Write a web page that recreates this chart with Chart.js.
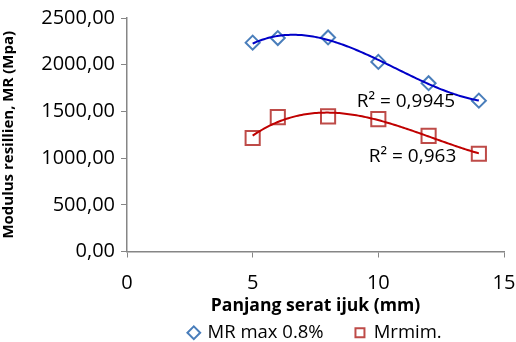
<!DOCTYPE html>
<html>
<head>
<meta charset="utf-8">
<script src="https://cdn.jsdelivr.net/npm/chart.js@4"></script>
<style>
  html, body { margin: 0; padding: 0; background: #fff; }
  #wrap { width: 516px; height: 342px; }
</style>
</head>
<body>
<div id="wrap"><canvas id="chart" width="516" height="342"></canvas></div>
<script>
'use strict';

// fibre length (mm)
const fibreLength = [5, 6, 8, 10, 12, 14];
const mrMax = [2236, 2285, 2292, 2030, 1802, 1615];
const mrMin = [1215, 1438, 1446, 1418, 1238, 1047];
const seriesNames = ['MR max 0.8%', 'Mrmim.'];
const r2Labels = ['R\u00b2 = 0,9945', 'R\u00b2 = 0,963'];
// where the R² text sits, in data units (right edge x, centre y)
const r2AnchorX = [13.05, 13.1];
const r2AnchorY = [1600, 1015];
const yTicks = [0, 500, 1000, 1500, 2000, 2500];
const xTicks = [0, 5, 10, 15];

const FONT = '"Open Sans", "Liberation Sans", sans-serif';
const AXIS_GREY = '#868686';

// least squares polynomial fit, returns coefficients c0..cn
function polyFit(xs, ys, order) {
  const n = order + 1;
  const A = [];
  for (let i = 0; i < n; i++) {
    A.push(new Array(n + 1).fill(0));
  }
  for (let k = 0; k < xs.length; k++) {
    for (let i = 0; i < n; i++) {
      for (let j = 0; j < n; j++) A[i][j] += Math.pow(xs[k], i + j);
      A[i][n] += ys[k] * Math.pow(xs[k], i);
    }
  }
  // gaussian elimination
  for (let i = 0; i < n; i++) {
    let max = i;
    for (let r = i + 1; r < n; r++) if (Math.abs(A[r][i]) > Math.abs(A[max][i])) max = r;
    [A[i], A[max]] = [A[max], A[i]];
    for (let r = i + 1; r < n; r++) {
      const f = A[r][i] / A[i][i];
      for (let c = i; c <= n; c++) A[r][c] -= f * A[i][c];
    }
  }
  const coef = new Array(n).fill(0);
  for (let i = n - 1; i >= 0; i--) {
    let s = A[i][n];
    for (let j = i + 1; j < n; j++) s -= A[i][j] * coef[j];
    coef[i] = s / A[i][i];
  }
  return coef;
}

const trendlinePlugin = {
  id: 'trendlines',
  afterDatasetsDraw(chart) {
    const { ctx, scales: { x, y } } = chart;
    ctx.save();
    chart.data.datasets.forEach((ds, idx) => {
      const xs = ds.data.map(p => p.x);
      const ys = ds.data.map(p => p.y);
      const coef = polyFit(xs, ys, 3);
      const x0 = Math.min(...xs);
      const x1 = Math.max(...xs);
      ctx.beginPath();
      const steps = 120;
      for (let s = 0; s <= steps; s++) {
        const xv = x0 + (x1 - x0) * s / steps;
        const yv = coef.reduce((acc, c, i) => acc + c * Math.pow(xv, i), 0);
        const px = x.getPixelForValue(xv);
        const py = y.getPixelForValue(yv);
        if (s === 0) ctx.moveTo(px, py);
        else ctx.lineTo(px, py);
      }
      ctx.strokeStyle = ds.trendColor;
      ctx.lineWidth = 2;
      ctx.stroke();

      ctx.font = '19px ' + FONT;
      ctx.fillStyle = '#000';
      ctx.textAlign = 'right';
      ctx.textBaseline = 'middle';
      ctx.fillText(r2Labels[idx], x.getPixelForValue(r2AnchorX[idx]), y.getPixelForValue(r2AnchorY[idx]));
    });
    ctx.restore();
  }
};

const toPoints = vals => fibreLength.map((v, i) => ({ x: v, y: vals[i] }));

new Chart(document.getElementById('chart'), {
  type: 'scatter',
  data: {
    datasets: [
      {
        label: seriesNames[0],
        data: toPoints(mrMax),
        pointStyle: 'rectRot',
        pointRadius: 7,
        pointHoverRadius: 7,
        borderColor: '#4a7ebb',
        backgroundColor: 'rgba(255,255,255,0)',
        borderWidth: 2,
        trendColor: '#0000c8'
      },
      {
        label: seriesNames[1],
        data: toPoints(mrMin),
        pointStyle: 'rect',
        pointRadius: 10,
        pointHoverRadius: 10,
        borderColor: '#be4b48',
        backgroundColor: 'rgba(255,255,255,0)',
        borderWidth: 2,
        trendColor: '#c00000'
      }
    ]
  },
  options: {
    responsive: false,
    animation: false,
    // legend sits low in the frame, so let its box run past the bottom edge
    layout: { padding: { top: 8, right: 12, left: 0, bottom: -10 } },
    plugins: {
      tooltip: { enabled: false },
      legend: {
        position: 'bottom',
        fullSize: false,
        labels: {
          usePointStyle: true,
          boxHeight: 9,
          boxWidth: 9,
          padding: 3,
          color: '#000',
          font: { family: FONT, size: 18.5 },
          generateLabels(chart) {
            const items = Chart.defaults.plugins.legend.labels.generateLabels(chart);
            // spacing between the two entries
            items.forEach((it, i) => { if (i === 0) it.text = it.text + '      '; });
            return items;
          }
        }
      }
    },
    scales: {
      x: {
        type: 'linear',
        min: 0,
        max: 15,
        afterBuildTicks(scale) { scale.ticks = xTicks.map(v => ({ value: v })); },
        afterFit(scale) {
          scale.height = 69;
          scale.paddingLeft = 0;
          scale.paddingRight = 0;
        },
        grid: {
          display: true,
          drawOnChartArea: false,
          drawTicks: true,
          tickLength: 6,
          color: AXIS_GREY
        },
        border: { color: AXIS_GREY, width: 1.5 },
        ticks: { color: '#000', padding: 14, font: { family: FONT, size: 20 } },
        title: {
          display: true,
          text: 'Panjang serat ijuk (mm)',
          color: '#000',
          padding: { top: 0, bottom: 4 },
          font: { family: FONT, size: 17.6, weight: 'bold' }
        }
      },
      y: {
        min: 0,
        max: 2500,
        afterBuildTicks(scale) { scale.ticks = yTicks.map(v => ({ value: v })); },
        afterFit(scale) { scale.width = 127; },
        grid: {
          display: true,
          drawOnChartArea: false,
          drawTicks: true,
          tickLength: 6,
          color: AXIS_GREY
        },
        border: { color: AXIS_GREY, width: 1.5 },
        ticks: {
          color: '#000',
          padding: 6,
          font: { family: FONT, size: 20 },
          callback: v => v.toFixed(2).replace('.', ',')
        },
        title: {
          display: true,
          text: 'Modulus resillien, MR (Mpa)',
          color: '#000',
          padding: { top: 0, bottom: 0 },
          font: { family: FONT, size: 15, weight: 'bold' }
        }
      }
    }
  },
  plugins: [trendlinePlugin]
});
</script>
</body>
</html>
